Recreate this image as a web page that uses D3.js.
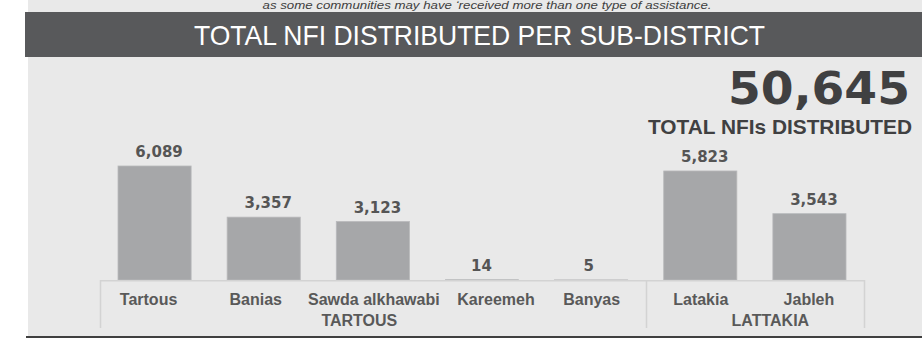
<!DOCTYPE html>
<html>
<head>
<meta charset="utf-8">
<script src="https://cdn.jsdelivr.net/npm/d3@7"></script>
<style>
  html, body { margin: 0; padding: 0; background: #ffffff; }
  svg { display: block; }
</style>
</head>
<body>
<svg id="chart" width="922" height="338"></svg>
<script>
// NFI distribution by sub-district, grouped by governorate
const subDistricts = ["Tartous", "Banias", "Sawda alkhawabi", "Kareemeh", "Banyas", "Latakia", "Jableh"];
const nfiCounts    = [6089, 3357, 3123, 14, 5, 5823, 3543];
const governorates = ["TARTOUS", "LATTAKIA"];
const governorateOf = ["TARTOUS", "TARTOUS", "TARTOUS", "TARTOUS", "TARTOUS", "LATTAKIA", "LATTAKIA"];
const totalNfi = 50645;
const titleText = "TOTAL NFI DISTRIBUTED PER SUB-DISTRICT";
const totalCaption = "TOTAL NFIs DISTRIBUTED";
const noteText = "as some communities may have \u2018received more than one type of assistance.";

// small horizontal nudges for label placement
const valueLabelNudge = [4.5, 4.5, 4.5, -0.5, -2.5, 4.5, 4.5];
const categoryLabelNudge = [-6, -8, 1, 14, 0.5, 0.5, -0.5];
const governorateLabelNudge = [-13.5, 15.5];

const svg = d3.select("#chart");
const W = 922, H = 338;

// panel background
svg.append("rect").attr("x", 28).attr("y", 0).attr("width", W - 28).attr("height", 336).attr("fill", "#e9e9e9");

// note line above the title band
svg.append("text")
  .attr("x", 487).attr("y", 9)
  .attr("text-anchor", "middle")
  .attr("font-family", "Liberation Sans, Arial, sans-serif")
  .attr("font-style", "italic")
  .attr("font-size", 11)
  .attr("fill", "#404040")
  .attr("textLength", 449).attr("lengthAdjust", "spacingAndGlyphs")
  .text(noteText);

// title band
svg.append("rect").attr("x", 25).attr("y", 12).attr("width", W - 25).attr("height", 45).attr("fill", "#58595b");
svg.append("text")
  .attr("x", 479.5).attr("y", 45)
  .attr("text-anchor", "middle")
  .attr("font-family", "Liberation Sans, Arial, sans-serif")
  .attr("font-size", 28)
  .attr("fill", "#ffffff")
  .attr("textLength", 571).attr("lengthAdjust", "spacingAndGlyphs")
  .text(titleText);

// headline total
svg.append("text")
  .attr("x", 910).attr("y", 104)
  .attr("text-anchor", "end")
  .attr("font-family", "DejaVu Sans, Verdana, sans-serif")
  .attr("font-weight", "bold")
  .attr("font-size", 45)
  .attr("fill", "#404041")
  .attr("textLength", 182).attr("lengthAdjust", "spacingAndGlyphs")
  .text(d3.format(",")(totalNfi));
svg.append("text")
  .attr("x", 912).attr("y", 134)
  .attr("text-anchor", "end")
  .attr("font-family", "Liberation Sans, Arial, sans-serif")
  .attr("font-weight", "bold")
  .attr("font-size", 20.5)
  .attr("fill", "#404041")
  .attr("textLength", 264).attr("lengthAdjust", "spacingAndGlyphs")
  .text(totalCaption);

// scales
const x = d3.scaleBand()
  .domain(subDistricts)
  .range([100, 864])
  .paddingInner(0.33)
  .paddingOuter(0.165);
const baseY = 280;
const y = d3.scaleLinear()
  .domain([0, d3.max(nfiCounts)])
  .range([baseY, 166]);

const data = subDistricts.map((name, i) => ({ name, value: nfiCounts[i], gov: governorateOf[i], i }));

// bars
svg.append("g").selectAll("rect")
  .data(data)
  .join("rect")
  .attr("x", d => x(d.name))
  .attr("y", d => y(d.value))
  .attr("width", x.bandwidth())
  .attr("height", d => baseY - y(d.value))
  .attr("fill", "#a6a7a9")
  .attr("stroke", "#b8b9bb")
  .attr("stroke-width", 0.8);

// value labels
svg.append("g").selectAll("text")
  .data(data)
  .join("text")
  .attr("x", d => x(d.name) + x.bandwidth() / 2 + valueLabelNudge[d.i])
  .attr("y", d => y(d.value) - 9)
  .attr("text-anchor", "middle")
  .attr("font-family", "DejaVu Sans, Verdana, sans-serif")
  .attr("font-weight", "bold")
  .attr("font-size", 15)
  .attr("fill", "#555555")
  .text(d => d3.format(",")(d.value));

// category axis: baseline plus group separators
const axisColor = "#d3d3d3";
const step = x.step();
const halfGap = step * x.paddingInner() / 2;
const axis = svg.append("g");
axis.append("line")
  .attr("x1", x.range()[0]).attr("x2", x.range()[1])
  .attr("y1", baseY + 0.75).attr("y2", baseY + 0.75)
  .attr("stroke", axisColor).attr("stroke-width", 1.5);

const groupBounds = governorates.map(g => {
  const members = data.filter(d => d.gov === g);
  const first = members[0], last = members[members.length - 1];
  return {
    g,
    x0: x(first.name) - halfGap,
    x1: x(last.name) + x.bandwidth() + halfGap
  };
});
const sepXs = [groupBounds[0].x0, ...groupBounds.map(b => b.x1)];
axis.selectAll("line.sep")
  .data(sepXs)
  .join("line")
  .attr("class", "sep")
  .attr("x1", d => Math.round(d) + 0.5).attr("x2", d => Math.round(d) + 0.5)
  .attr("y1", baseY).attr("y2", 328)
  .attr("stroke", axisColor).attr("stroke-width", 1.5);

// sub-district labels
axis.selectAll("text.cat")
  .data(data)
  .join("text")
  .attr("class", "cat")
  .attr("x", d => x(d.name) + x.bandwidth() / 2 + categoryLabelNudge[d.i])
  .attr("y", 305)
  .attr("text-anchor", "middle")
  .attr("font-family", "Liberation Sans, Arial, sans-serif")
  .attr("font-weight", "bold")
  .attr("font-size", 16)
  .attr("fill", "#595959")
  .text(d => d.name);

// governorate labels
axis.selectAll("text.gov")
  .data(groupBounds)
  .join("text")
  .attr("class", "gov")
  .attr("x", (d, i) => (d.x0 + d.x1) / 2 + governorateLabelNudge[i])
  .attr("y", 326)
  .attr("text-anchor", "middle")
  .attr("font-family", "Liberation Sans, Arial, sans-serif")
  .attr("font-weight", "bold")
  .attr("font-size", 16)
  .attr("fill", "#595959")
  .text(d => d.g);

// bottom rule
svg.append("rect").attr("x", 26).attr("y", 336).attr("width", W - 26).attr("height", 2).attr("fill", "#404040");
</script>
</body>
</html>
